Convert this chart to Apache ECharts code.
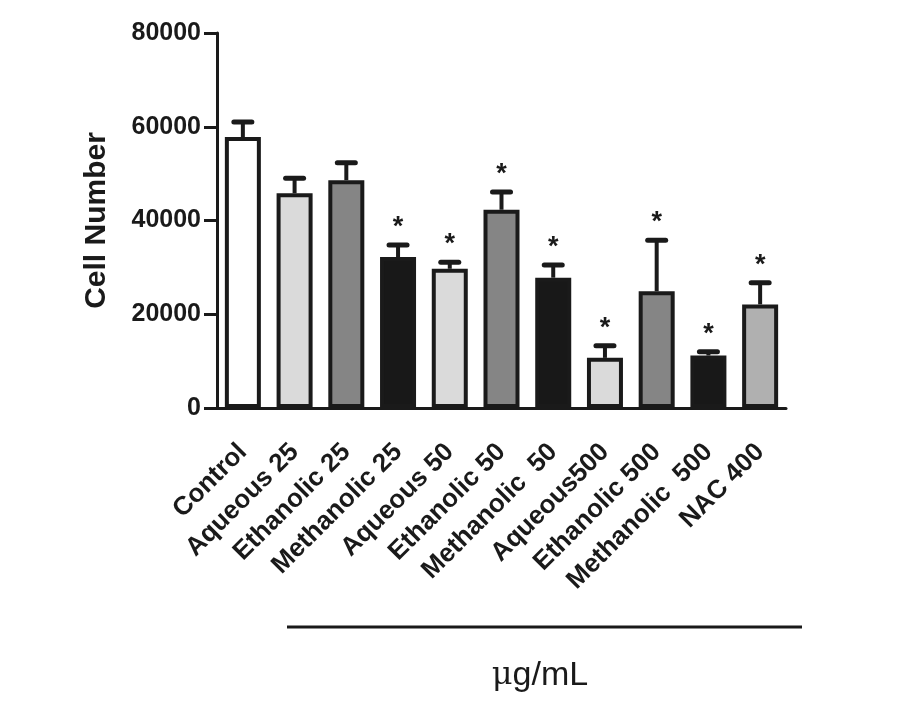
<!DOCTYPE html>
<html><head><meta charset="utf-8">
<script src="https://cdn.jsdelivr.net/npm/echarts@6/dist/echarts.min.js"></script>
<style>html,body{margin:0;padding:0;background:#fff}#c{width:917px;height:720px}</style>
</head><body><div id="c"></div>
<script>
var categories = ['Control','Aqueous 25','Ethanolic 25','Methanolic 25','Aqueous 50','Ethanolic 50','Methanolic  50','Aqueous500','Ethanolic 500','Methanolic  500','NAC 400'];
var means = [57800, 45800, 48600, 32200, 29700, 42300, 27800, 10700, 24900, 11200, 22100];
var errors = [3200, 3200, 3700, 2600, 1400, 3800, 2700, 2600, 10900, 800, 4600];
var significant = [0,0,0,1,1,1,1,1,1,1,1];
var fills = ['#ffffff','#dadada','#858585','#181818','#dadada','#858585','#181818','#dadada','#858585','#181818','#b0b0b0'];
var yTicks = [0, 20000, 40000, 60000, 80000];

var chart = echarts.init(document.getElementById('c'));
var FONT = '"Liberation Sans", Arial, sans-serif';
chart.setOption({
  animation: false,
  grid: {left: 217, right: 131, top: 33, bottom: 312},
  xAxis: {
    type: 'category', data: categories,
    axisLine: {lineStyle: {color: '#1a1a1a', width: 3}},
    axisTick: {alignWithLabel: true, length: 10, lineStyle: {color: '#1a1a1a', width: 3}},
    axisLabel: {rotate: 45, interval: 0, color: '#1a1a1a', fontFamily: FONT, fontWeight: 'bold', fontSize: 26, margin: 40}
  },
  yAxis: {
    type: 'value', min: yTicks[0], max: yTicks[yTicks.length-1], interval: 20000,
    name: 'Cell Number', nameLocation: 'middle', nameGap: 105,
    nameTextStyle: {color: '#1a1a1a', fontFamily: FONT, fontWeight: 'bold', fontSize: 30},
    splitLine: {show: false},
    axisLine: {show: true, lineStyle: {color: '#1a1a1a', width: 3}},
    axisTick: {show: true, length: 13, lineStyle: {color: '#1a1a1a', width: 3}},
    axisLabel: {color: '#1a1a1a', fontFamily: FONT, fontWeight: 'bold', fontSize: 25, margin: 16,
      formatter: function(v){ return String(v); }}
  },
  series: [{
    type: 'bar', barWidth: 36,
    data: means.map(function(v, i){ return {value: v, itemStyle: {color: fills[i]}}; }),
    itemStyle: {borderColor: '#1a1a1a', borderWidth: 4},
    z: 2
  }, {
    type: 'custom',
    data: means.map(function(v, i){ return [i, v, v + errors[i], significant[i]]; }),
    renderItem: function(params, api){
      var x = api.value(0);
      var top = api.coord([x, api.value(1)]);
      var hi = api.coord([x, api.value(2)]);
      var children = [
        {type: 'line', shape: {x1: top[0], y1: top[1], x2: hi[0], y2: hi[1]}, style: {stroke: '#1a1a1a', lineWidth: 4}},
        {type: 'line', shape: {x1: hi[0]-9, y1: hi[1], x2: hi[0]+9, y2: hi[1]}, style: {stroke: '#1a1a1a', lineWidth: 5, lineCap: 'round'}}
      ];
      if (api.value(3)) {
        children.push({type: 'text', style: {text: '*', x: hi[0], y: hi[1] - 4, textAlign: 'center', textVerticalAlign: 'bottom', fill: '#1a1a1a', font: 'bold 27px ' + FONT}});
      }
      return {type: 'group', children: children};
    },
    z: 1
  }],
  graphic: [
    {type: 'line', shape: {x1: 287, y1: 627, x2: 802, y2: 627}, style: {stroke: '#1a1a1a', lineWidth: 3}},
    {type: 'text', x: 540, y: 676, style: {
      text: '{mu|μ}g/mL', textAlign: 'center', textVerticalAlign: 'middle', fill: '#1a1a1a', font: '34px ' + FONT,
      rich: {mu: {fontFamily: '"DejaVu Serif", "Liberation Serif", serif', fontSize: 32, fill: '#1a1a1a'}}
    }}
  ]
});
</script></body></html>
